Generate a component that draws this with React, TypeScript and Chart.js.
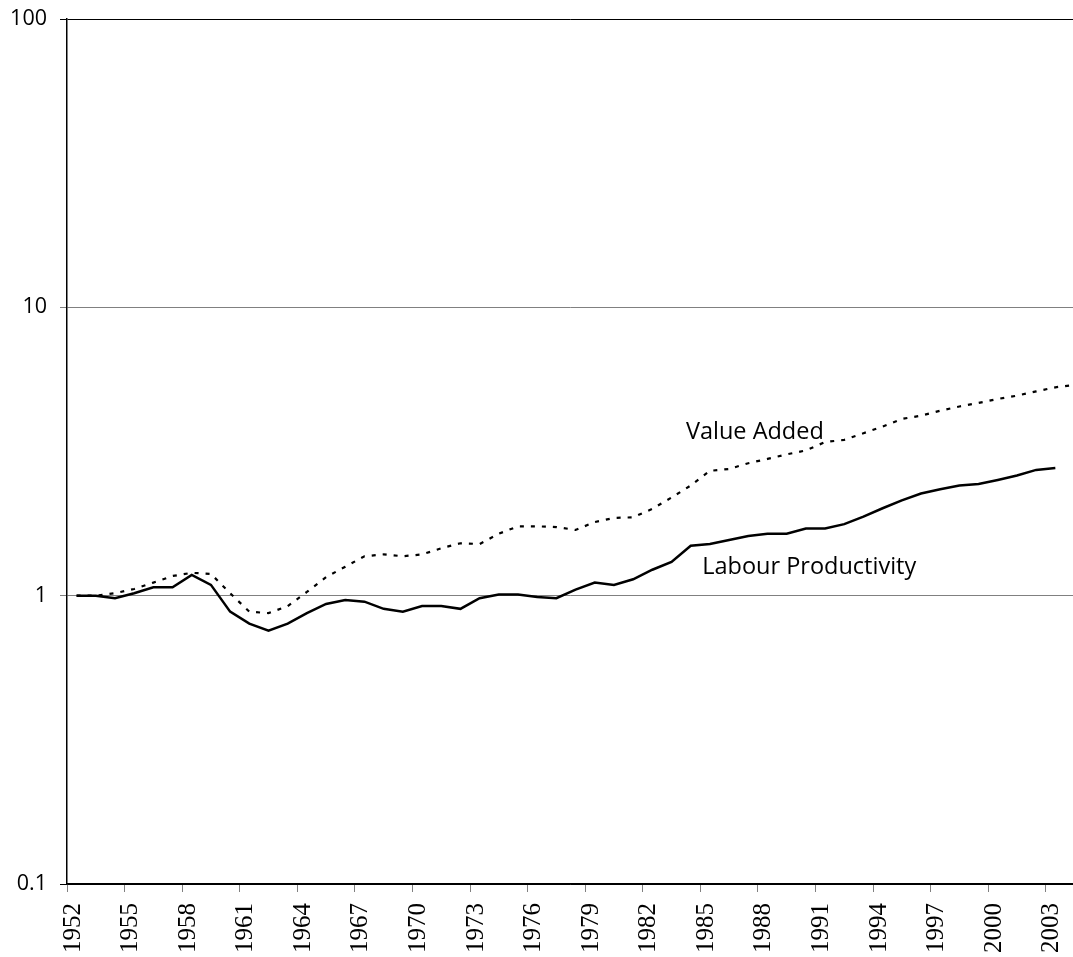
import React, { useEffect, useRef } from 'react';
import { Chart, registerables } from 'chart.js';

Chart.register(...registerables);

// ---- Data ----
const years = [
  1952, 1953, 1954, 1955, 1956, 1957, 1958, 1959, 1960, 1961,
  1962, 1963, 1964, 1965, 1966, 1967, 1968, 1969, 1970, 1971,
  1972, 1973, 1974, 1975, 1976, 1977, 1978, 1979, 1980, 1981,
  1982, 1983, 1984, 1985, 1986, 1987, 1988, 1989, 1990, 1991,
  1992, 1993, 1994, 1995, 1996, 1997, 1998, 1999, 2000, 2001,
  2002, 2003, 2004,
];

const labourProductivity: (number | null)[] = [
  1.00, 1.00, 0.98, 1.02, 1.07, 1.07, 1.18, 1.09, 0.88, 0.80,
  0.756, 0.80, 0.87, 0.936, 0.966, 0.953, 0.90, 0.88, 0.92, 0.92,
  0.90, 0.98, 1.01, 1.01, 0.99, 0.98, 1.05, 1.11, 1.09, 1.14,
  1.23, 1.31, 1.49, 1.51, 1.56, 1.61, 1.64, 1.64, 1.71, 1.71,
  1.77, 1.88, 2.01, 2.14, 2.26, 2.34, 2.41, 2.44, 2.52, 2.61,
  2.73, 2.77, null,
];

const valueAdded: (number | null)[] = [
  1.00, 1.00, 1.02, 1.055, 1.11, 1.17, 1.20, 1.19, 1.02, 0.88,
  0.87, 0.92, 1.03, 1.16, 1.26, 1.37, 1.39, 1.37, 1.39, 1.46,
  1.52, 1.51, 1.64, 1.74, 1.74, 1.73, 1.69, 1.80, 1.86, 1.87,
  2.00, 2.19, 2.41, 2.71, 2.75, 2.88, 2.98, 3.09, 3.19, 3.41,
  3.47, 3.66, 3.86, 4.10, 4.21, 4.38, 4.53, 4.66, 4.81, 4.94,
  5.11, 5.28, 5.38,
];

const xTickLabels = [
  1952, 1955, 1958, 1961, 1964, 1967, 1970, 1973, 1976,
  1979, 1982, 1985, 1988, 1991, 1994, 1997, 2000, 2003,
];

const yTickLabels = [0.1, 1, 10, 100];

const seriesNames = ['Labour Productivity', 'Value Added'];

// ---- Layout / style ----
const SANS = '"Open Sans", "DejaVu Sans", sans-serif';
const SERIF = '"Liberation Serif", "DejaVu Serif", serif';

const annotationPlacement = [
  { text: seriesNames[1], x: 1984.25, y: 3.68 },
  { text: seriesNames[0], x: 1985.1, y: 1.25 },
];

const annotationPlugin = {
  id: 'seriesAnnotations',
  afterDatasetsDraw(chart: any) {
    const { ctx, scales } = chart;
    ctx.save();
    ctx.font = `23.5px ${SANS}`;
    ctx.fillStyle = '#000';
    ctx.textAlign = 'left';
    ctx.textBaseline = 'middle';
    for (const a of annotationPlacement) {
      ctx.fillText(a.text, scales.x.getPixelForValue(a.x), scales.y.getPixelForValue(a.y));
    }
    ctx.restore();
  },
};

export default function App() {
  const canvasRef = useRef<HTMLCanvasElement | null>(null);

  useEffect(() => {
    document.body.style.margin = '0';
    const canvas = canvasRef.current;
    if (!canvas) return;

    const toPoints = (vals: (number | null)[]) =>
      years.map((yr, i) => ({ x: yr + 0.5, y: vals[i] }));

    const chart = new Chart(canvas, {
      type: 'line',
      data: {
        datasets: [
          {
            label: seriesNames[1],
            data: toPoints(valueAdded),
            borderColor: '#000',
            borderWidth: 2.2,
            borderDash: [4, 7],
            pointRadius: 0,
            tension: 0,
            fill: false,
          },
          {
            label: seriesNames[0],
            data: toPoints(labourProductivity),
            borderColor: '#000',
            borderWidth: 2.5,
            pointRadius: 0,
            tension: 0,
            fill: false,
            spanGaps: false,
          },
        ],
      },
      options: {
        animation: false,
        responsive: true,
        maintainAspectRatio: false,
        layout: { padding: { top: 19, right: 0, left: 0, bottom: 0 } },
        plugins: {
          legend: { display: false },
          tooltip: { enabled: false },
        },
        scales: {
          x: {
            type: 'linear',
            min: 1952,
            max: 2004.42,
            afterBuildTicks: (scale: any) => {
              scale.ticks = xTickLabels.map((v) => ({ value: v }));
            },
            afterFit: (scale: any) => {
              scale.height = 73;
              scale.paddingLeft = 0;
              scale.paddingRight = 0;
            },
            ticks: {
              autoSkip: false,
              minRotation: 90,
              maxRotation: 90,
              padding: 11,
              labelOffset: 6,
              color: '#000',
              font: { family: SERIF, size: 25 },
              callback: (v: any) => String(v),
            },
            grid: {
              drawOnChartArea: false,
              drawTicks: true,
              tickLength: 8,
              color: '#808080',
            },
            border: { display: true, color: '#000', width: 1.5 },
          },
          y: {
            type: 'logarithmic',
            min: 0.1,
            max: 100,
            afterBuildTicks: (scale: any) => {
              scale.ticks = yTickLabels.map((v) => ({ value: v }));
            },
            afterFit: (scale: any) => {
              scale.width = 67;
              scale.paddingTop = 0;
              scale.paddingBottom = 0;
            },
            ticks: {
              autoSkip: false,
              padding: 13,
              color: '#000',
              font: { family: SANS, size: 21.5 },
              callback: (v: any) => String(v),
            },
            grid: {
              drawTicks: true,
              tickLength: 7,
              lineWidth: 1,
              color: (ctx: any) => {
                const v = ctx.tick ? ctx.tick.value : 0;
                if (v === 100 || v === 0.1) return '#000';
                return '#808080';
              },
            },
            border: { display: true, color: '#000', width: 1.5 },
          },
        },
      },
      plugins: [annotationPlugin],
    } as any);

    return () => chart.destroy();
  }, []);

  return (
    <div style={{ width: 1073, height: 957, position: 'relative' }}>
      <canvas ref={canvasRef} />
    </div>
  );
}
